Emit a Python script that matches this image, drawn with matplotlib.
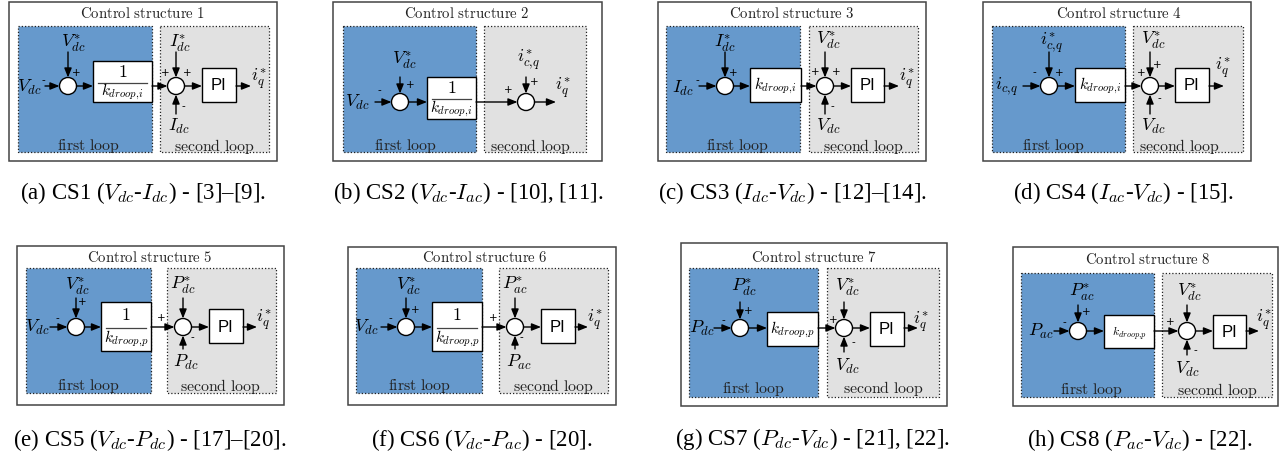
import matplotlib
matplotlib.use('Agg')
import matplotlib.pyplot as plt
from matplotlib.patches import Rectangle, Circle

plt.rcParams['mathtext.fontset'] = 'cm'

# ---------------- content ----------------
titles = ["Control structure %d" % i for i in range(1, 9)]
captions = [
    r"(a) CS1 ($V_{dc}$-$I_{dc}$) - [3]–[9].",
    r"(b) CS2 ($V_{dc}$-$I_{ac}$) - [10], [11].",
    r"(c) CS3 ($I_{dc}$-$V_{dc}$) - [12]–[14].",
    r"(d) CS4 ($I_{ac}$-$V_{dc}$) - [15].",
    r"(e) CS5 ($V_{dc}$-$P_{dc}$) - [17]–[20].",
    r"(f) CS6 ($V_{dc}$-$P_{ac}$) - [20].",
    r"(g) CS7 ($P_{dc}$-$V_{dc}$) - [21], [22].",
    r"(h) CS8 ($P_{ac}$-$V_{dc}$) - [22].",
]
inputs = [r"$V_{dc}$", r"$V_{dc}$", r"$I_{dc}$", r"$i_{c,\!q}$",
          r"$V_{dc}$", r"$V_{dc}$", r"$P_{dc}$", r"$P_{ac}$"]
refs1 = [r"$V_{dc}^{*}$", r"$V_{dc}^{*}$", r"$I_{dc}^{*}$", r"$i_{c,\!q}^{*}$",
         r"$V_{dc}^{*}$", r"$V_{dc}^{*}$", r"$P_{dc}^{*}$", r"$P_{ac}^{*}$"]
gains = [r"$k_{droop,\!i}$", r"$k_{droop,\!i}$", r"$k_{droop,\!i}$", r"$k_{droop,\!i}$",
         r"$k_{droop,\!p}$", r"$k_{droop,\!p}$", r"$k_{droop,\!p}$", r"$k_{droop,\!p}$"]
gain_inverse = [True, True, False, False, True, True, False, False]
refs2 = [r"$I_{dc}^{*}$", r"$i_{c,\!q}^{*}$", r"$V_{dc}^{*}$", r"$V_{dc}^{*}$",
         r"$P_{dc}^{*}$", r"$P_{ac}^{*}$", r"$V_{dc}^{*}$", r"$V_{dc}^{*}$"]
feedbacks = [r"$I_{dc}$", None, r"$V_{dc}$", r"$V_{dc}$",
             r"$P_{dc}$", r"$P_{ac}$", r"$V_{dc}$", r"$V_{dc}$"]
has_pi = [True, False, True, True, True, True, True, True]
pi_text = "PI"
output_label = r"$i_q^{*}$"
loop_names = [r"$\mathrm{first\ loop}$", r"$\mathrm{second\ loop}$"]

# ---------------- layout (pixels) ----------------
layouts = [
    dict(box=(9, 2, 277, 161), title=(143, 13), blue=(18, 26, 152, 152), gray=(160, 26, 269, 152),
         s1=(68, 86), inl=(29, 87), in0=45, m1=(43, 80), r1=(73, 43), r1y0=52, p1=(76, 73),
         blk=(93, 61, 152, 102), s2x=176, p2=[(165, 73), (187, 73)], r2=(180, 43), r2y0=52,
         fb=(179, 126), fby0=114, m2=(183, 106), pi=(202, 68, 236, 102), outx=251, outl=(259, 79),
         loops=(88, 214, 146), cap=(143, 193)),
    dict(box=(333, 2, 602, 161), title=(467, 13), blue=(343, 26, 476, 152), gray=(484, 26, 586, 152),
         s1=(400, 102), inl=(357, 102), in0=375, m1=(379, 90), r1=(404, 60), r1y0=77, p1=(410, 85),
         blk=(427, 77, 476, 119), s2x=526, p2=[(508, 90), (534, 82)], r2=(529, 60), r2y0=77,
         fb=None, fby0=None, m2=None, pi=None, outx=556, outl=(563, 88),
         loops=(405, 530, 146), cap=(468, 193)),
    dict(box=(658, 2, 926, 161), title=(792, 13), blue=(666, 26, 800, 152), gray=(809, 26, 918, 152),
         s1=(725, 86), inl=(683, 88), in0=699, m1=(697, 80), r1=(725, 43), r1y0=52, p1=(733, 73),
         blk=(750, 68, 801, 102), s2x=825, p2=[(815, 72), (836, 72)], r2=(828, 40), r2y0=52,
         fb=(828, 126), fby0=114, m2=(832, 106), pi=(851, 68, 884, 102), outx=899, outl=(907, 79),
         loops=(737, 863, 146), cap=(792, 193)),
    dict(box=(983, 2, 1251, 161), title=(1119, 13), blue=(992, 26, 1125, 152), gray=(1133, 26, 1243, 152),
         s1=(1049, 86), inl=(1007, 87), in0=1023, m1=(1034, 72), r1=(1052, 43), r1y0=52, p1=(1059, 73),
         blk=(1075, 68, 1125, 102), s2x=1150, p2=[(1141, 73), (1157, 65)], r2=(1153, 40), r2y0=52,
         fb=(1153, 126), fby0=114, m2=(1159, 98), pi=(1175, 68, 1209, 102), outx=1224, outl=(1223, 68),
         loops=(1053, 1179, 146), cap=(1123, 193)),
    dict(box=(17, 246, 284, 405), title=(150, 257), blue=(26, 268, 151, 393), gray=(167, 268, 276, 393),
         s1=(76, 327), inl=(37, 327), in0=50, m1=(57, 318), r1=(77, 286), r1y0=298, p1=(82, 302),
         blk=(101, 302, 151, 351), s2x=183, p2=[(161, 318)], r2=(183, 285), r2y0=298,
         fb=(186, 362), fby0=349, m2=(192, 337), pi=(209, 309, 243, 343), outx=257, outl=(264, 320),
         loops=(88, 220, 386), cap=(150, 440)),
    dict(box=(348, 247, 616, 405), title=(485, 257), blue=(356, 268, 482, 393), gray=(499, 268, 608, 393),
         s1=(406, 327), inl=(366, 327), in0=381, m1=(390, 318), r1=(408, 286), r1y0=298, p1=(415, 310),
         blk=(432, 302, 482, 351), s2x=515, p2=[(493, 318)], r2=(515, 285), r2y0=298,
         fb=(519, 362), fby0=349, m2=(521, 337), pi=(541, 309, 575, 343), outx=588, outl=(595, 320),
         loops=(419, 553, 386), cap=(482, 440)),
    dict(box=(681, 243, 947, 406), title=(814, 257), blue=(689, 268, 818, 397), gray=(827, 268, 939, 397),
         s1=(740, 328), inl=(702, 328), in0=714, m1=(723, 320), r1=(744, 287), r1y0=302, p1=(748, 311),
         blk=(767, 312, 818, 346), s2x=844, p2=[(833, 320)], r2=(847, 287), r2y0=302,
         fb=(847, 366), fby0=352, m2=(853, 342), pi=(870, 312, 904, 346), outx=918, outl=(921, 322),
         loops=(753, 883, 389), cap=(812, 439)),
    dict(box=(1013, 247, 1278, 406), title=(1148, 259), blue=(1021, 273, 1154, 397), gray=(1162, 273, 1272, 397),
         s1=(1078, 331), inl=(1041, 331), in0=1054, m1=(1064, 322), r1=(1082, 292), r1y0=305, p1=(1086, 312),
         blk=(1104, 315, 1154, 348), s2x=1187, p2=[(1170, 322)], r2=(1189, 292), r2y0=305,
         fb=(1187, 369), fby0=355, m2=(1195, 350), pi=(1213, 315, 1246, 348), outx=1259, outl=(1264, 320),
         loops=(1091, 1217, 390), cap=(1140, 440)),
]

BLUE = '#6699CC'
GRAY = '#E1E1E1'
R = 8.5
LABEL_FS = 13
SIGN_FS = 7.5
TITLE_FS = 10.7
LOOP_FS = 11.4
GAIN_FS = 11
CAP_FS = 16.5

fig = plt.figure(figsize=(12.88, 4.55), dpi=100)
ax = fig.add_axes([0, 0, 1, 1])
ax.set_xlim(0, 1288)
ax.set_ylim(455, 0)
ax.axis('off')


def rect(x0, y0, x1, y1, **kw):
    ax.add_patch(Rectangle((x0, y0), x1 - x0, y1 - y0, **kw))


def arrow(x0, y0, x1, y1):
    ax.annotate('', xy=(x1, y1), xytext=(x0, y0),
                arrowprops=dict(arrowstyle='-|>,head_length=0.55,head_width=0.22',
                                color='black', lw=1.0, shrinkA=0, shrinkB=0,
                                mutation_scale=10), zorder=5)


def sign(txt, xy):
    ax.text(xy[0], xy[1], txt, fontsize=SIGN_FS, ha='center', va='center',
            family='DejaVu Sans', zorder=6)


for i, L in enumerate(layouts):
    # frames
    rect(*L['box'], facecolor='white', edgecolor='#444444', lw=1.1, zorder=0)
    ax.text(L['title'][0], L['title'][1], r"$\mathrm{" + titles[i].replace(' ', r'\ ') + "}$",
            fontsize=TITLE_FS, ha='center', va='center', color='#222222')
    rect(*L['blue'], facecolor=BLUE, edgecolor='#222222', lw=0.9, linestyle=(0, (1, 1.6)), zorder=1)
    rect(*L['gray'], facecolor=GRAY, edgecolor='#222222', lw=0.9, linestyle=(0, (1, 1.6)), zorder=1)
    ax.text(L['loops'][0], L['loops'][2], loop_names[0], fontsize=LOOP_FS, ha='center', va='center', color='#222222')
    ax.text(L['loops'][1], L['loops'][2], loop_names[1], fontsize=LOOP_FS, ha='center', va='center', color='#222222')

    sx, sy = L['s1']
    # first summing junction
    ax.add_patch(Circle((sx, sy), R, facecolor='white', edgecolor='black', lw=1.0, zorder=4))
    ax.text(L['inl'][0], L['inl'][1], inputs[i], fontsize=LABEL_FS, ha='center', va='center', zorder=6)
    arrow(L['in0'], sy, sx - R, sy)
    sign('-', L['m1'])
    ax.text(L['r1'][0], L['r1'][1], refs1[i], fontsize=LABEL_FS, ha='center', va='center', zorder=6)
    arrow(sx, L['r1y0'], sx, sy - R)
    sign('+', L['p1'])

    # gain block
    bx0, by0, bx1, by1 = L['blk']
    rect(bx0, by0, bx1, by1, facecolor='white', edgecolor='black', lw=1.0, zorder=3)
    arrow(sx + R, sy, bx0, sy)
    bcx = (bx0 + bx1) / 2
    if gain_inverse[i]:
        bmy = (by0 + by1) / 2 + 1
        ax.text(bcx, by0 + (bmy - by0) * 0.5, r"$1$", fontsize=LABEL_FS, ha='center', va='center', zorder=6)
        ax.plot([bx0 + 5, bx1 - 5], [bmy, bmy], color='#444444', lw=0.9, zorder=6)
        ax.text(bcx, bmy + (by1 - bmy) * 0.5, gains[i], fontsize=GAIN_FS, ha='center', va='center', zorder=6)
    else:
        ax.text(bcx, (by0 + by1) / 2 + 1, gains[i], fontsize=GAIN_FS if i < 7 else 8.5,
                ha='center', va='center', zorder=6)

    # second summing junction
    s2x = L['s2x']
    ax.add_patch(Circle((s2x, sy), R, facecolor='white', edgecolor='black', lw=1.0, zorder=4))
    arrow(bx1, sy, s2x - R, sy)
    for p in L['p2']:
        sign('+', p)
    ax.text(L['r2'][0], L['r2'][1], refs2[i], fontsize=LABEL_FS, ha='center', va='center', zorder=6)
    arrow(s2x, L['r2y0'], s2x, sy - R)
    if feedbacks[i] is not None:
        ax.text(L['fb'][0], L['fb'][1], feedbacks[i], fontsize=LABEL_FS, ha='center', va='center', zorder=6)
        arrow(s2x, L['fby0'], s2x, sy + R)
        sign('-', L['m2'])

    # PI and output
    if has_pi[i]:
        px0, py0, px1, py1 = L['pi']
        rect(px0, py0, px1, py1, facecolor='white', edgecolor='black', lw=1.0, zorder=3)
        ax.text((px0 + px1) / 2, (py0 + py1) / 2 + 1, pi_text, fontsize=12, family='Liberation Sans',
                ha='center', va='center', zorder=6)
        arrow(s2x + R, sy, px0, sy)
        arrow(px1, sy, L['outx'], sy)
    else:
        arrow(s2x + R, sy, L['outx'], sy)
    ax.text(L['outl'][0], L['outl'][1], output_label, fontsize=LABEL_FS, ha='center', va='center', zorder=6)

    # caption
    ax.text(L['cap'][0], L['cap'][1], captions[i], fontsize=CAP_FS, family='Liberation Serif',
            ha='center', va='center')

fig.savefig('out.png', dpi=100)
